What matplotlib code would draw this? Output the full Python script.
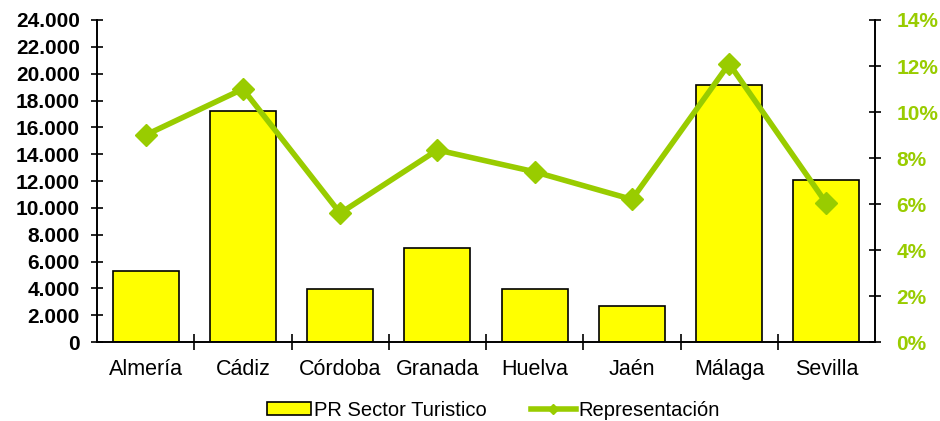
import numpy as np
import matplotlib.pyplot as plt
from matplotlib.lines import Line2D
from matplotlib.ticker import FuncFormatter, FixedLocator

plt.rcParams['font.family'] = ['Liberation Sans', 'DejaVu Sans']

provincias = ["Almería", "Cádiz", "Córdoba", "Granada", "Huelva", "Jaén", "Málaga", "Sevilla"]
pr_sector = [5300, 17250, 3920, 7000, 3920, 2680, 19130, 12050]
representacion = [9.0, 11.0, 5.6, 8.35, 7.4, 6.2, 12.1, 6.03]

GREEN = "#99CC00"

fig = plt.figure(figsize=(9.4, 4.21), dpi=100)
ax = fig.add_axes([0.1032, 0.1876, 0.8277, 0.7649])
ax2 = ax.twinx()

x = np.arange(len(provincias))

bars = ax.bar(
    x,
    pr_sector,
    width=0.68,
    color="#FFFF00",
    edgecolor="black",
    linewidth=1.2,
    label="PR Sector Turistico"
)

line, = ax2.plot(
    x,
    representacion,
    color=GREEN,
    linewidth=4,
    marker="D",
    markersize=11,
    label="Representación"
)

ax.set_xlim(-0.5, len(provincias) - 0.5)
ax.set_ylim(0, 24000)
ax2.set_ylim(0, 14)

ax.set_yticks(np.arange(0, 24001, 2000))
ax.yaxis.set_major_formatter(
    FuncFormatter(lambda v, p: f"{int(v):,}".replace(",", "."))
)
ax2.set_yticks(np.arange(0, 15, 2))
ax2.yaxis.set_major_formatter(FuncFormatter(lambda v, p: f"{int(v)}%"))

ax.set_xticks(x)
ax.set_xticklabels(provincias, fontsize=15.5)
ax.tick_params(axis="x", which="major", length=0, pad=12)
ax.xaxis.set_minor_locator(FixedLocator(np.arange(0.5, len(provincias) - 1, 1)))
ax.tick_params(axis="x", which="minor", direction="inout", length=11, width=1.2)

ax.tick_params(axis="y", direction="inout", length=9, width=1.2, labelsize=15, pad=8)
for lbl in ax.get_yticklabels():
    lbl.set_fontweight("bold")

ax2.tick_params(axis="y", direction="inout", length=9, width=1.2,
                labelsize=15, labelcolor=GREEN, pad=11)
for lbl in ax2.get_yticklabels():
    lbl.set_fontweight("bold")

for a in (ax, ax2):
    a.spines["top"].set_visible(False)
    for s in ("left", "right", "bottom"):
        a.spines[s].set_linewidth(1.2)

line_handle = Line2D([], [], color=GREEN, linewidth=4, marker="D", markersize=5)

fig.legend(
    [bars, line_handle],
    ["PR Sector Turistico", "Representación"],
    loc="lower center",
    bbox_to_anchor=(0.525, -0.04),
    ncol=2,
    frameon=False,
    fontsize=14.5,
    handlelength=2.2,
    handleheight=0.6,
    columnspacing=2.2,
    handletextpad=0.15
)

fig.savefig("out.png", dpi=100)
